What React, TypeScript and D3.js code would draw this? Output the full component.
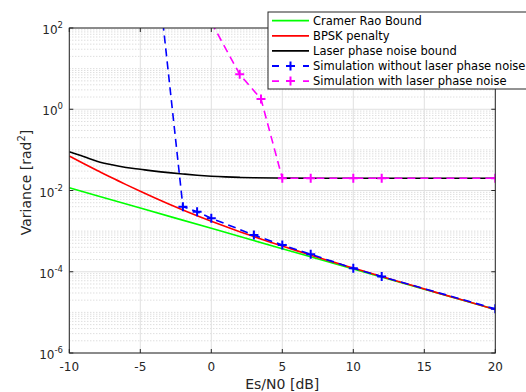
import React from "react";
import * as d3 from "d3";

const W = 526;
const H = 392;

// ---- data ----
const crbX = [-10, -5, 0, 5, 10, 15, 20];
const crbY = [0.0117, 0.0037, 0.00117, 0.00037, 0.000117, 0.000037, 0.0000117];

const bpskX = [-10, -9, -8, -7, -6, -5, -4, -3, -2, -1, 0, 1, 2, 3, 4, 5, 6, 7, 8, 9, 10, 12, 14, 16, 18, 20];
const bpskY = [0.0702, 0.0462, 0.0307, 0.0205, 0.01393, 0.00955, 0.00664, 0.00467, 0.00332, 0.0024, 0.00176, 0.0013, 0.000971, 0.000733, 0.000559, 0.000429, 0.000331, 0.000257, 0.0002, 0.000157, 0.000123, 0.0000761, 0.0000476, 0.0000298, 0.0000187, 0.0000118];

const laserX = [-10, -9, -8, -7, -6, -5, -4, -3, -2, -1, 0, 1, 2, 3, 5, 10, 20];
const laserY = [0.09, 0.069, 0.052, 0.043, 0.037, 0.0333, 0.03, 0.0275, 0.0255, 0.0238, 0.0225, 0.0216, 0.021, 0.0206, 0.0202, 0.02, 0.02];

const simNoLaserX = [-4, -2, -1, 0, 3, 5, 7, 10, 12, 20];
const simNoLaserY = [11000, 0.004, 0.003, 0.00207, 0.0008, 0.000457, 0.000269, 0.000122, 0.000076, 0.0000122];

const simLaserX = [0, 2, 3.5, 5, 7, 10, 12, 20];
const simLaserY = [138, 7.25, 1.79, 0.02, 0.02, 0.02, 0.02, 0.02];

const xTicks = [-10, -5, 0, 5, 10, 15, 20];
const yTickExps = [2, 0, -2, -4, -6];

const legendLabels = [
  "Cramer Rao Bound",
  "BPSK penalty",
  "Laser phase noise bound",
  "Simulation without laser phase noise",
  "Simulation with laser phase noise",
];

const FONT = "DejaVu Sans, Liberation Sans, sans-serif";

export default function App() {
  const L = 69.3, R = 495.3, T = 28, B = 353;
  const x = d3.scaleLinear().domain([-10, 20]).range([L, R]);
  const y = d3.scaleLog().domain([1e-6, 1e2]).range([B, T]);

  const mk = (xs: number[], ys: number[], curve = d3.curveLinear) =>
    d3
      .line<number>()
      .x((_, i) => x(xs[i]))
      .y((v) => y(v))
      .curve(curve)(ys) || "";

  const minor: number[] = [];
  for (let e = -6; e < 2; e++) {
    for (let k = 1; k <= 9; k++) {
      const v = k * Math.pow(10, e);
      if (k === 1 && e % 2 === 0) continue;
      minor.push(v);
    }
  }

  const series = [
    { d: mk(crbX, crbY, d3.curveMonotoneX), color: "#00ff00", dash: "" },
    { d: mk(bpskX, bpskY, d3.curveMonotoneX), color: "#ff0000", dash: "" },
    { d: mk(laserX, laserY, d3.curveMonotoneX), color: "#000000", dash: "" },
    { d: mk(simNoLaserX, simNoLaserY), color: "#0000ff", dash: "8,5" },
    { d: mk(simLaserX, simLaserY), color: "#ff00ff", dash: "8,5" },
  ];

  const plus = (cx: number, cy: number, color: string, key: string) => (
    <path
      key={key}
      d={`M${cx - 4.5},${cy}H${cx + 4.5}M${cx},${cy - 4.5}V${cy + 4.5}`}
      stroke={color}
      strokeWidth={2}
      fill="none"
    />
  );

  const legendColors = ["#00ff00", "#ff0000", "#000000", "#0000ff", "#ff00ff"];
  const LX = 268, LY = 12;

  return (
    <svg
      width={W}
      height={H}
      style={{ position: "absolute", left: 0, top: 0, background: "#fff" }}
      fontFamily={FONT}
    >
      <defs>
        <clipPath id="plotclip">
          <rect x={L} y={T} width={R - L} height={B - T} />
        </clipPath>
      </defs>
      <rect x={0} y={0} width={W} height={H} fill="#fff" />
      {/* minor grid */}
      {minor.map((v, i) => (
        <line
          key={"mg" + i}
          x1={L}
          x2={R}
          y1={y(v)}
          y2={y(v)}
          stroke="#c4c4c4"
          strokeWidth={0.8}
          strokeDasharray="1,2"
        />
      ))}
      {/* major grid */}
      {xTicks.map((t) => (
        <line key={"gx" + t} x1={x(t)} x2={x(t)} y1={T} y2={B} stroke="#e0e0e0" strokeWidth={1} />
      ))}
      {yTickExps.map((e) => (
        <line key={"gy" + e} x1={L} x2={R} y1={y(Math.pow(10, e))} y2={y(Math.pow(10, e))} stroke="#e0e0e0" strokeWidth={1} />
      ))}
      {/* series */}
      <g clipPath="url(#plotclip)">
        {series.map((s, i) => (
          <path
            key={"s" + i}
            d={s.d}
            fill="none"
            stroke={s.color}
            strokeWidth={1.6}
            strokeDasharray={s.dash || undefined}
          />
        ))}
        {simNoLaserX.map((v, i) => plus(x(v), y(simNoLaserY[i]), "#0000ff", "pb" + i))}
        {simLaserX.map((v, i) => plus(x(v), y(simLaserY[i]), "#ff00ff", "pm" + i))}
      </g>
      {/* axes box */}
      <rect x={L} y={T} width={R - L} height={B - T} fill="none" stroke="#262626" strokeWidth={1} />
      {/* ticks */}
      {xTicks.map((t) => (
        <g key={"tx" + t}>
          <line x1={x(t)} x2={x(t)} y1={B} y2={B - 4} stroke="#262626" />
          <line x1={x(t)} x2={x(t)} y1={T} y2={T + 4} stroke="#262626" />
          <text x={x(t)} y={371} fontSize={12} textAnchor="middle" fill="#262626">
            {t}
          </text>
        </g>
      ))}
      {yTickExps.map((e) => {
        const yy = y(Math.pow(10, e));
        return (
          <g key={"ty" + e}>
            <line x1={L} x2={L + 4} y1={yy} y2={yy} stroke="#262626" />
            <line x1={R} x2={R - 4} y1={yy} y2={yy} stroke="#262626" />
            <text x={63} y={yy + 6} fontSize={12} textAnchor="end" fill="#262626">
              10
              <tspan fontSize={8.5} dy={-6}>
                {e}
              </tspan>
            </text>
          </g>
        );
      })}
      {/* axis labels */}
      <text x={(L + R) / 2} y={389} fontSize={14} textAnchor="middle" fill="#262626">
        Es/N0 [dB]
      </text>
      <text
        transform={`translate(31,${(T + B) / 2 - 8}) rotate(-90)`}
        fontSize={14}
        textAnchor="middle"
        fill="#262626"
      >
        Variance [rad
        <tspan fontSize={10} dy={-6}>
          2
        </tspan>
        <tspan dy={6}>]</tspan>
      </text>
      {/* legend */}
      <rect x={LX} y={LY} width={270} height={77} fill="#fff" stroke="#262626" strokeWidth={1} />
      {legendLabels.map((lab, i) => {
        const ry = 20.7 + i * 15.1;
        const dashed = i >= 3;
        return (
          <g key={"lg" + i}>
            <line
              x1={272}
              x2={309}
              y1={ry}
              y2={ry}
              stroke={legendColors[i]}
              strokeWidth={1.8}
              strokeDasharray={dashed ? "8,8" : undefined}
              strokeDashoffset={dashed ? 1 : undefined}
            />
            {dashed && plus(290.5, ry, legendColors[i], "lp" + i)}
            <text x={313} y={ry + 4.2} fontSize={11.5} fill="#000">
              {lab}
            </text>
          </g>
        );
      })}
    </svg>
  );
}
